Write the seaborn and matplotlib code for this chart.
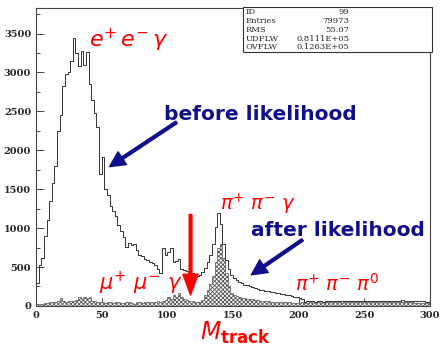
import numpy as np
import pandas as pd
import matplotlib
matplotlib.use("Agg")
import matplotlib.pyplot as plt
from matplotlib.patches import Rectangle
import seaborn as sns

# bin counts, 2 units per bin from 0 to 300
before_counts = [
    300, 520, 620, 900, 1100, 1350, 1580, 1800, 2250, 2450,
    2820, 2980, 3000, 3150, 3440, 3250, 3080, 3270, 3100, 3260,
    2850, 2640, 2480, 2300, 1700, 1920, 1500, 1420, 1280, 1220,
    1150, 1040, 960, 880, 760, 810, 780, 800, 720, 660,
    640, 600, 590, 560, 550, 520, 470, 420, 740, 650,
    690, 740, 560, 580, 600, 480, 460, 450, 440, 420,
    400, 380, 400, 440, 490, 560, 660, 800, 1020, 1200,
    1050, 800, 590, 470, 400, 360, 330, 310, 290, 275,
    265, 250, 240, 230, 220, 210, 205, 195, 190, 180,
    175, 168, 163, 155, 150, 142, 135, 128, 120, 115,
    105, 90, 50, 60, 58, 62, 55, 64, 60, 57,
    63, 59, 66, 61, 58, 64, 60, 67, 62, 59,
    65, 61, 63, 68, 60, 64, 66, 62, 70, 65,
    61, 67, 63, 69, 64, 60, 66, 62, 68, 71,
    64, 67, 63, 69, 65, 62, 60, 58, 55, 52,
]
after_counts = [
    20, 30, 25, 35, 40, 45, 50, 55, 60, 100,
    70, 55, 60, 65, 60, 80, 110, 90, 120, 100,
    115, 70, 60, 55, 45, 50, 40, 55, 45, 40,
    50, 45, 35, 40, 50, 45, 40, 30, 45, 55,
    40, 45, 50, 55, 45, 50, 60, 55, 70, 80,
    110, 90, 140, 120, 170, 120, 90, 80, 70, 60,
    55, 50, 55, 80, 140, 200, 280, 380, 560, 740,
    790, 620, 420, 260, 170, 140, 125, 115, 105, 98,
    92, 88, 84, 80, 75, 70, 65, 60, 58, 55,
    52, 50, 48, 50, 47, 45, 46, 44, 42, 40,
    42, 45, 40, 44, 48, 43, 46, 50, 44, 47,
    52, 45, 49, 46, 51, 48, 44, 50, 47, 53,
    49, 46, 52, 48, 55, 50, 47, 53, 49, 56,
    51, 48, 54, 50, 57, 52, 49, 55, 51, 47,
    53, 50, 48, 46, 44, 42, 40, 38, 36, 35,
]
stat_names = ["ID", "Entries", "RMS", "UDFLW", "OVFLW"]
stat_values = ["99", "79973", "55.07", "0.8111E+05", "0.1263E+05"]

edges = np.arange(0, 302, 2)
df = pd.DataFrame({"m": edges[:-1] + 1, "before": before_counts, "after": after_counts})

sns.set_style("ticks")
plt.rcParams["hatch.linewidth"] = 0.6
plt.rcParams["mathtext.fontset"] = "dejavusans"

red = "#ff0000"
navy = "#0f0f8c"

fig = plt.figure(figsize=(4.45, 3.57), dpi=100)
ax = fig.add_axes([0.081, 0.143, 0.885, 0.835])

sns.histplot(data=df, x="m", weights="after", binwidth=2, binrange=(0, 300), element="step",
             fill=True, color="white", edgecolor="#555555", hatch="xxxxxxxx",
             linewidth=0.5, alpha=1, ax=ax)
sns.histplot(data=df, x="m", weights="before", binwidth=2, binrange=(0, 300), element="step",
             fill=False, color="#333333", linewidth=0.7, ax=ax)

ax.set_xlim(0, 300)
ax.set_ylim(0, 3830)
ax.set_xticks(range(0, 301, 50))
ax.set_yticks(range(0, 3501, 500))
ax.set_yticks(range(0, 3801, 250), minor=True)
ax.set_xticks(range(0, 301, 10), minor=True)
ax.tick_params(direction="in", length=6, width=0.6, labelsize=7)
ax.tick_params(which="minor", direction="in", length=3, width=0.6)
for lab in ax.get_xticklabels() + ax.get_yticklabels():
    lab.set_family("DejaVu Serif")
    lab.set_weight("bold")
ax.set_xlabel("")
ax.set_ylabel("")
for sp in ax.spines.values():
    sp.set_linewidth(0.8)
    sp.set_color("#444444")

# stats box
fig.patches.append(Rectangle((0.546, 0.854), 0.425, 0.126, transform=fig.transFigure,
                             facecolor="white", edgecolor="#333333", linewidth=0.8))
for i, (nm, val) in enumerate(zip(stat_names, stat_values)):
    yy = 1 - (12.5 + 8.7 * i) / 357
    fig.text(0.552, yy, nm, fontsize=6, family="DejaVu Serif", va="center")
    fig.text(0.785, yy, val, fontsize=6, family="DejaVu Serif", va="center", ha="right")

# labels
ax.text(40, 3330, r"$e^{+}\,e^{-}\,\gamma$", color=red, fontsize=16)
ax.text(171, 2460, "before likelihood", color=navy, fontsize=14.5, weight="bold",
        ha="center", va="center")
ax.annotate("", xy=(56, 1790), xytext=(107, 2360),
            arrowprops=dict(width=2, headwidth=11, headlength=11, color=navy))
ax.text(169, 1310, r"$\pi^{+}\ \pi^{-}\ \gamma$", color=red, fontsize=14, ha="center", va="center")
ax.text(230, 965, "after likelihood", color=navy, fontsize=14.5, weight="bold",
        ha="center", va="center")
ax.annotate("", xy=(164, 400), xytext=(203, 850),
            arrowprops=dict(width=2, headwidth=11, headlength=11, color=navy))
ax.text(229, 283, r"$\pi^{+}\ \pi^{-}\ \pi^{0}$", color=red, fontsize=14, ha="center", va="center")
ax.text(80, 296, r"$\mu^{+}\ \mu^{-}\ \gamma$", color=red, fontsize=15, ha="center", va="center")
ax.annotate("", xy=(117.7, 140), xytext=(117.7, 1175),
            arrowprops=dict(width=2, headwidth=11, headlength=15, color=red))

fig.text(235 / 445, 1 - 333 / 357, r"$M_{\mathbf{track}}$", color=red, fontsize=17,
         ha="center", va="center")

fig.savefig("out.png", dpi=100, facecolor="white")
